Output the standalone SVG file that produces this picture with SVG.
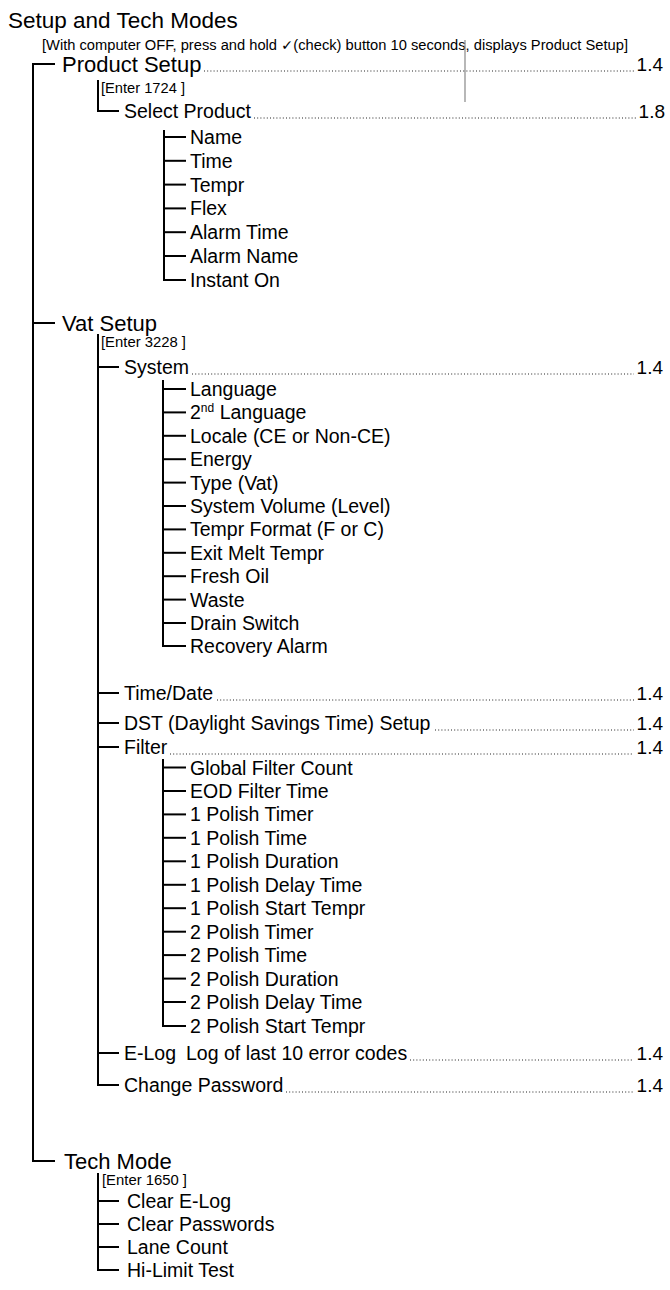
<svg xmlns="http://www.w3.org/2000/svg" width="670" height="1290" viewBox="0 0 670 1290">
<style>
text{font-family:"Liberation Sans",Arial,sans-serif;fill:#000}
.t{font-size:22.5px}
.l1{font-size:22px}
.it{font-size:19.5px}
.pg{font-size:19px;text-anchor:end}
.en{font-size:14px}
.sub{font-size:14px}
.tree line,.tree path{stroke:#000;stroke-width:2;fill:none}
.lead{stroke:#222;stroke-width:1;stroke-dasharray:1 2.2}
</style>
<rect width="670" height="1290" fill="#fff"/>
<g id="title">
<text class="t" x="8" y="28">Setup and Tech Modes</text>
<text class="sub" x="42" y="50" textLength="586" lengthAdjust="spacingAndGlyphs">[With computer OFF, press and hold <tspan font-family="DejaVu Sans, sans-serif">✓</tspan>(check) button 10 seconds, displays Product Setup]</text>
<line x1="465" y1="40" x2="465" y2="102" stroke="#888" stroke-width="1.2"/>
</g>
<g id="connectors" class="tree">
<path d="M55 64H33V1161H55"/>
<line x1="33" y1="323" x2="55" y2="323"/>
<path d="M98 80V111H119"/>
<path d="M164 130V280H186"/>
<line x1="164" y1="137" x2="186" y2="137"/>
<line x1="164" y1="160.8" x2="186" y2="160.8"/>
<line x1="164" y1="184.6" x2="186" y2="184.6"/>
<line x1="164" y1="208.4" x2="186" y2="208.4"/>
<line x1="164" y1="232.2" x2="186" y2="232.2"/>
<line x1="164" y1="256" x2="186" y2="256"/>
<path d="M98 334V1085H119"/>
<line x1="98" y1="367" x2="119" y2="367"/>
<line x1="98" y1="693" x2="119" y2="693"/>
<line x1="98" y1="723" x2="119" y2="723"/>
<line x1="98" y1="747" x2="119" y2="747"/>
<line x1="98" y1="1053" x2="119" y2="1053"/>
<path d="M163 380V646H186"/>
<line x1="163" y1="389" x2="186" y2="389"/>
<line x1="163" y1="412.4" x2="186" y2="412.4"/>
<line x1="163" y1="435.8" x2="186" y2="435.8"/>
<line x1="163" y1="459.2" x2="186" y2="459.2"/>
<line x1="163" y1="482.6" x2="186" y2="482.6"/>
<line x1="163" y1="506" x2="186" y2="506"/>
<line x1="163" y1="529.4" x2="186" y2="529.4"/>
<line x1="163" y1="552.8" x2="186" y2="552.8"/>
<line x1="163" y1="576.2" x2="186" y2="576.2"/>
<line x1="163" y1="599.6" x2="186" y2="599.6"/>
<line x1="163" y1="623" x2="186" y2="623"/>
<path d="M163 759V1026H186"/>
<line x1="163" y1="767.5" x2="186" y2="767.5"/>
<line x1="163" y1="791" x2="186" y2="791"/>
<line x1="163" y1="814.4" x2="186" y2="814.4"/>
<line x1="163" y1="837.8" x2="186" y2="837.8"/>
<line x1="163" y1="861.3" x2="186" y2="861.3"/>
<line x1="163" y1="884.8" x2="186" y2="884.8"/>
<line x1="163" y1="908.2" x2="186" y2="908.2"/>
<line x1="163" y1="931.7" x2="186" y2="931.7"/>
<line x1="163" y1="955.1" x2="186" y2="955.1"/>
<line x1="163" y1="978.6" x2="186" y2="978.6"/>
<line x1="163" y1="1002" x2="186" y2="1002"/>
<path d="M98 1173V1270H119"/>
<line x1="98" y1="1201" x2="119" y2="1201"/>
<line x1="98" y1="1224" x2="119" y2="1224"/>
<line x1="98" y1="1247" x2="119" y2="1247"/>
</g>
<g id="leaders">
<line class="lead" x1="204" y1="71" x2="634" y2="71"/>
<line class="lead" x1="254" y1="118" x2="636" y2="118"/>
<line class="lead" x1="192" y1="374" x2="634" y2="374"/>
<line class="lead" x1="217" y1="700" x2="634" y2="700"/>
<line class="lead" x1="435" y1="730" x2="634" y2="730"/>
<line class="lead" x1="170" y1="754" x2="634" y2="754"/>
<line class="lead" x1="410" y1="1060" x2="634" y2="1060"/>
<line class="lead" x1="286" y1="1092" x2="634" y2="1092"/>
</g>
<g id="product-setup">
<text class="l1" x="62" y="72">Product Setup</text>
<text class="pg" x="663" y="71">1.4</text>
<text class="en" x="101" y="93" textLength="84" lengthAdjust="spacingAndGlyphs">[Enter 1724 ]</text>
</g>
<g id="select-product">
<text class="it" x="124" y="118">Select Product</text>
<text class="pg" x="665" y="118">1.8</text>
</g>
<g id="product-items">
<text class="it" x="190" y="144">Name</text>
<text class="it" x="190" y="167.8">Time</text>
<text class="it" x="190" y="191.6">Tempr</text>
<text class="it" x="190" y="215.4">Flex</text>
<text class="it" x="190" y="239.2">Alarm Time</text>
<text class="it" x="190" y="263">Alarm Name</text>
<text class="it" x="190" y="287">Instant On</text>
</g>
<g id="vat-setup">
<text class="l1" x="62" y="331">Vat Setup</text>
<text class="en" x="101" y="347" textLength="85" lengthAdjust="spacingAndGlyphs">[Enter 3228 ]</text>
</g>
<g id="system">
<text class="it" x="124" y="374">System</text>
<text class="pg" x="663" y="374">1.4</text>
</g>
<g id="system-items">
<text class="it" x="190" y="396">Language</text>
<text class="it" x="190" y="419.4">2<tspan font-size="12px" dy="-7">nd</tspan><tspan dy="7"> Language</tspan></text>
<text class="it" x="190" y="442.8">Locale (CE or Non-CE)</text>
<text class="it" x="190" y="466.2">Energy</text>
<text class="it" x="190" y="489.6">Type (Vat)</text>
<text class="it" x="190" y="513">System Volume (Level)</text>
<text class="it" x="190" y="536.4">Tempr Format (F or C)</text>
<text class="it" x="190" y="559.8">Exit Melt Tempr</text>
<text class="it" x="190" y="583.2">Fresh Oil</text>
<text class="it" x="190" y="606.6">Waste</text>
<text class="it" x="190" y="630">Drain Switch</text>
<text class="it" x="190" y="653">Recovery Alarm</text>
</g>
<g id="time-date">
<text class="it" x="124" y="700">Time/Date</text>
<text class="pg" x="663" y="700">1.4</text>
</g>
<g id="dst">
<text class="it" x="124" y="730">DST (Daylight Savings Time) Setup</text>
<text class="pg" x="663" y="730">1.4</text>
</g>
<g id="filter">
<text class="it" x="124" y="754">Filter</text>
<text class="pg" x="663" y="754">1.4</text>
</g>
<g id="filter-items">
<text class="it" x="190" y="774.5">Global Filter Count</text>
<text class="it" x="190" y="798">EOD Filter Time</text>
<text class="it" x="190" y="821.4">1 Polish Timer</text>
<text class="it" x="190" y="844.8">1 Polish Time</text>
<text class="it" x="190" y="868.3">1 Polish Duration</text>
<text class="it" x="190" y="891.8">1 Polish Delay Time</text>
<text class="it" x="190" y="915.2">1 Polish Start Tempr</text>
<text class="it" x="190" y="938.7">2 Polish Timer</text>
<text class="it" x="190" y="962.1">2 Polish Time</text>
<text class="it" x="190" y="985.6">2 Polish Duration</text>
<text class="it" x="190" y="1009">2 Polish Delay Time</text>
<text class="it" x="190" y="1033">2 Polish Start Tempr</text>
</g>
<g id="e-log">
<text class="it" x="124" y="1060">E-Log</text>
<text class="it" x="186" y="1060">Log of last 10 error codes</text>
<text class="pg" x="663" y="1060">1.4</text>
</g>
<g id="change-password">
<text class="it" x="124" y="1092">Change Password</text>
<text class="pg" x="663" y="1092">1.4</text>
</g>
<g id="tech-mode">
<text class="l1" x="64" y="1169">Tech Mode</text>
<text class="en" x="102" y="1185" textLength="85" lengthAdjust="spacingAndGlyphs">[Enter 1650 ]</text>
</g>
<g id="tech-items">
<text class="it" x="127" y="1208">Clear E-Log</text>
<text class="it" x="127" y="1231">Clear Passwords</text>
<text class="it" x="127" y="1254">Lane Count</text>
<text class="it" x="127" y="1277">Hi-Limit Test</text>
</g>
</svg>
